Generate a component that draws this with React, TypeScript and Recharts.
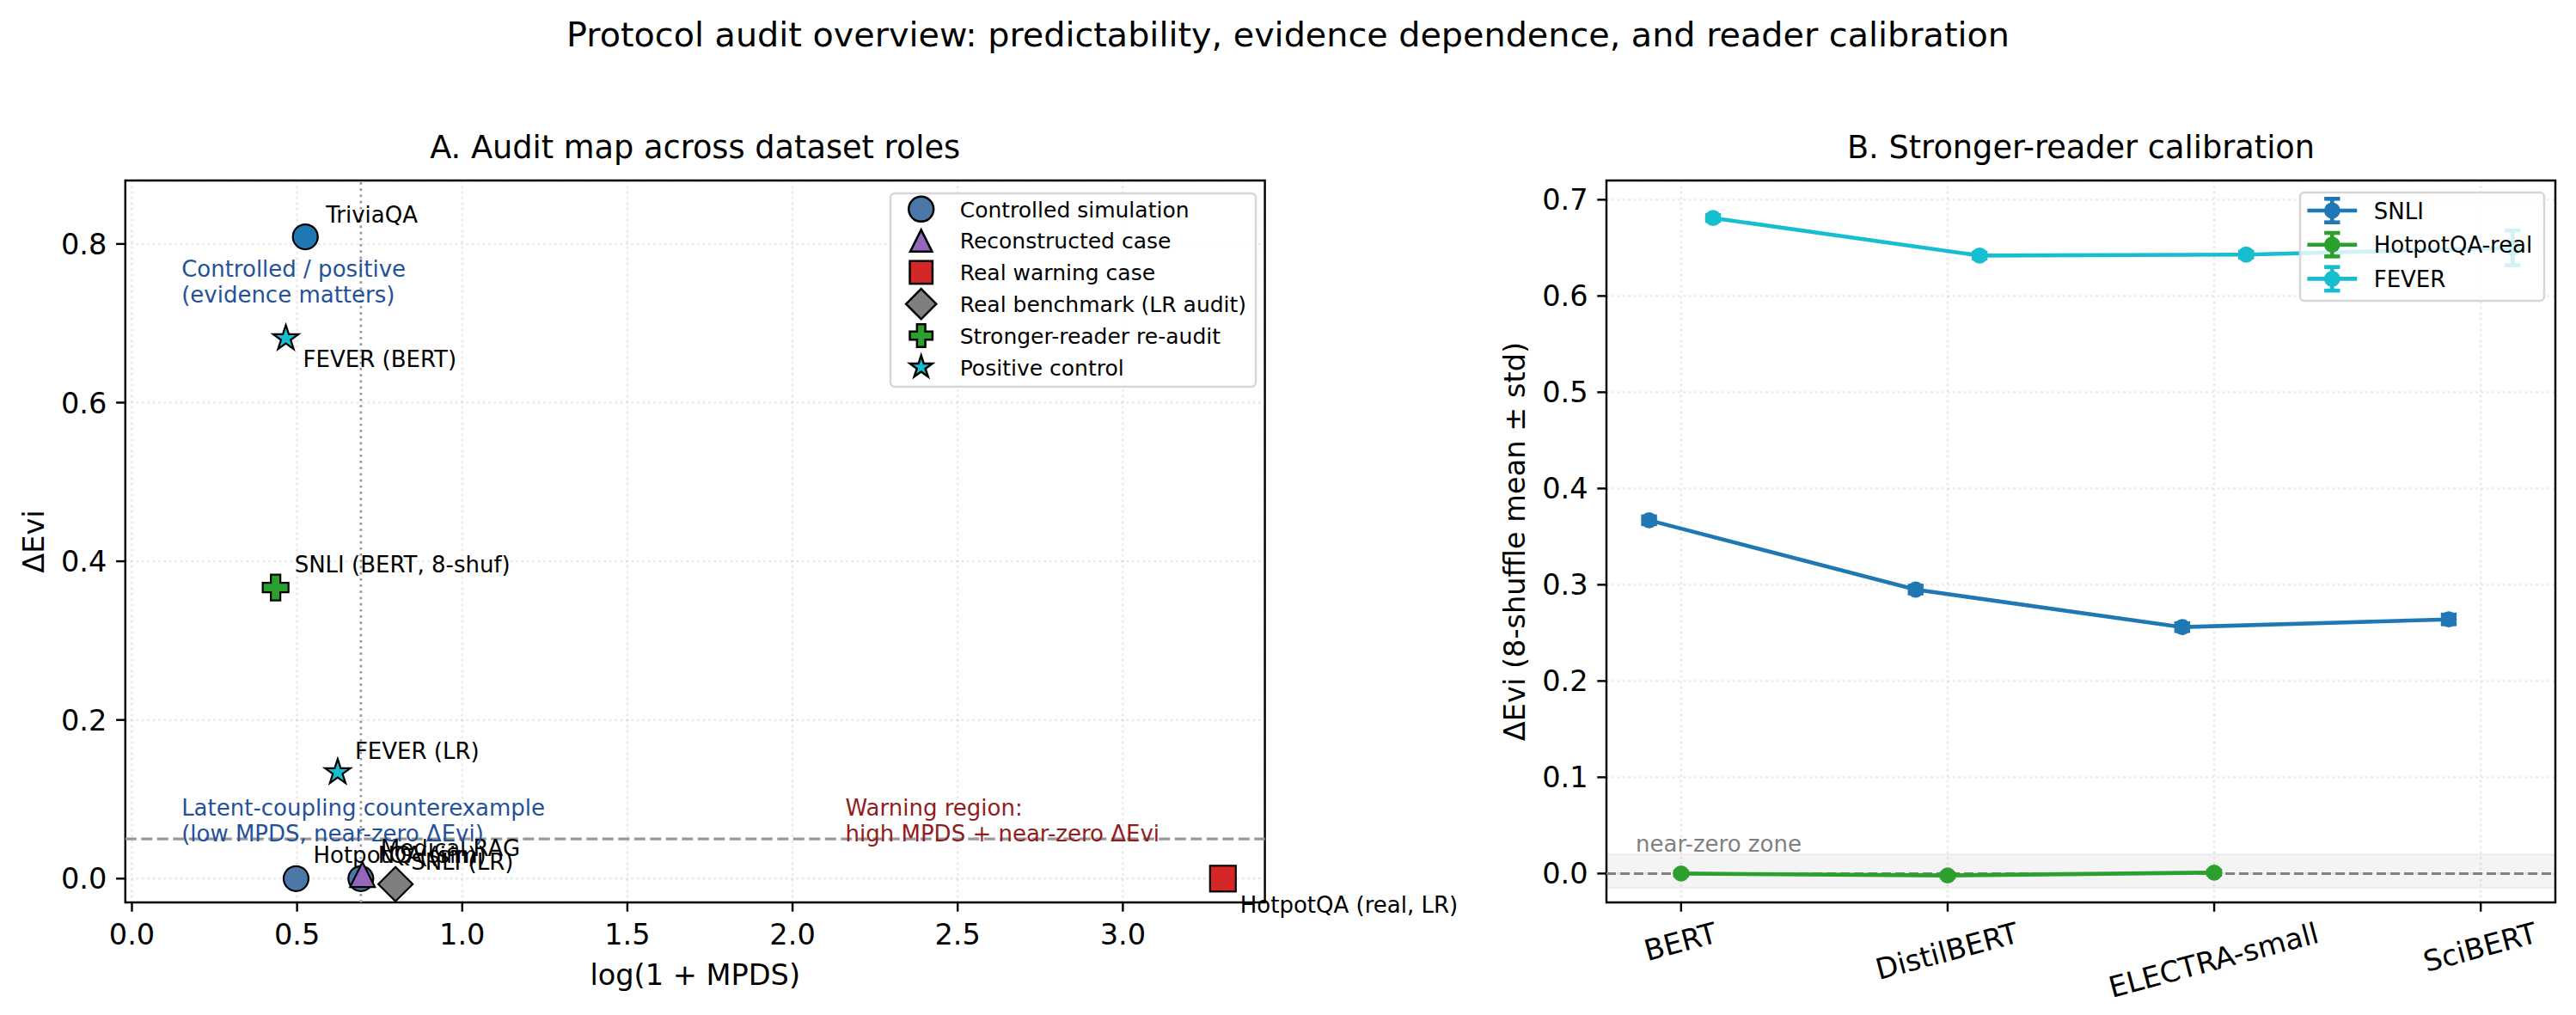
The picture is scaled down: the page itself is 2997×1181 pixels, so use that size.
import React from "react";
import {
  ScatterChart,
  Scatter,
  LineChart,
  Line,
  XAxis,
  YAxis,
  CartesianGrid,
  ReferenceLine,
  ReferenceArea,
  ReferenceDot,
  ErrorBar,
} from "recharts";

const FONT = '"DejaVu Sans", sans-serif';
const TICK_FS = 33.6;
const NOTE_FS = 26;
const SPINE = 2.44;
const TICK_LEN = 10.7;

// ---------- Panel A: audit map ----------
const ROLES = [
  "Controlled simulation",
  "Reconstructed case",
  "Real warning case",
  "Real benchmark (LR audit)",
  "Stronger-reader re-audit",
  "Positive control",
];

const SIMULATION_POINTS = [
  { name: "TriviaQA", x: 0.525, y: 0.809 },
  { name: "HotpotQA (sim)", x: 0.497, y: 0.0 },
  { name: "NQ (sim)", x: 0.693, y: 0.0 },
];
const RECONSTRUCTED_POINTS = [{ name: "Medical RAG", x: 0.698, y: 0.005 }];
const WARNING_POINTS = [{ name: "HotpotQA (real, LR)", x: 3.303, y: 0.0 }];
const BENCHMARK_POINTS = [{ name: "SNLI (LR)", x: 0.798, y: -0.007 }];
const REAUDIT_POINTS = [{ name: "SNLI (BERT, 8-shuf)", x: 0.435, y: 0.367 }];
const POSITIVE_POINTS = [
  { name: "FEVER (BERT)", x: 0.466, y: 0.681 },
  { name: "FEVER (LR)", x: 0.623, y: 0.134 },
];

const MAP_X_TICKS = [0, 0.5, 1, 1.5, 2, 2.5, 3];
const MAP_Y_TICKS = [0, 0.2, 0.4, 0.6, 0.8];
const MAP_X_DOMAIN = [-0.02, 3.43];
const MAP_Y_DOMAIN = [-0.03, 0.88];
const MPDS_THRESHOLD = 1; // drawn at log(1 + 1)
const NEAR_ZERO_EVI = 0.05;

const MAP_NOTES = [
  { kind: "positive", x: 0.15, y: 0.72, lines: ["Controlled / positive", "(evidence matters)"] },
  { kind: "positive", x: 0.15, y: 0.04, lines: ["Latent-coupling counterexample", "(low MPDS, near-zero ΔEvi)"] },
  { kind: "warning", x: 2.16, y: 0.04, lines: ["Warning region:", "high MPDS + near-zero ΔEvi"] },
];

// ---------- Panel B: stronger-reader calibration ----------
const READERS = ["BERT", "DistilBERT", "ELECTRA-small", "SciBERT"];
const SNLI_MEAN = [0.367, 0.295, 0.256, 0.264];
const SNLI_STD = [0.004, 0.004, 0.004, 0.005];
const HOTPOT_MEAN = [0.0, -0.002, 0.001];
const HOTPOT_STD = [0.002, 0.002, 0.002];
const FEVER_MEAN = [0.681, 0.642, 0.643, 0.65];
const FEVER_STD = [0.003, 0.003, 0.003, 0.018];
const CAL_Y_TICKS = [0, 0.1, 0.2, 0.3, 0.4, 0.5, 0.6, 0.7];
const CAL_X_DOMAIN = [-0.28, 3.28];
const CAL_Y_DOMAIN = [-0.03, 0.72];
const NEAR_ZERO_BAND = [-0.015, 0.02];

// ---------- styles ----------
type ShapeKind = "circle" | "triangle" | "square" | "diamond" | "plus" | "star";

const ROLE_STYLE: Record<string, { shape: ShapeKind; fill: string }> = {
  "Controlled simulation": { shape: "circle", fill: "#4c78a8" },
  "Reconstructed case": { shape: "triangle", fill: "#9467bd" },
  "Real warning case": { shape: "square", fill: "#d62728" },
  "Real benchmark (LR audit)": { shape: "diamond", fill: "#7f7f7f" },
  "Stronger-reader re-audit": { shape: "plus", fill: "#2ca02c" },
  "Positive control": { shape: "star", fill: "#17becf" },
};
const POINT_FILL: Record<string, string> = { TriviaQA: "#1f77b4" };

const MAP_SERIES = [
  { role: ROLES[0], data: SIMULATION_POINTS },
  { role: ROLES[1], data: RECONSTRUCTED_POINTS },
  { role: ROLES[2], data: WARNING_POINTS },
  { role: ROLES[3], data: BENCHMARK_POINTS },
  { role: ROLES[4], data: REAUDIT_POINTS },
  { role: ROLES[5], data: POSITIVE_POINTS },
];
const ALL_MAP_POINTS = MAP_SERIES.flatMap((s) => s.data);

// label offsets from marker centre: [dx to text start, dy to baseline]
const LABEL_OFFSET: Record<string, [number, number]> = {
  TriviaQA: [24, -17],
  "HotpotQA (sim)": [20, -18],
  "NQ (sim)": [20, -18],
  "Medical RAG": [21, -22],
  "HotpotQA (real, LR)": [20, 40],
  "SNLI (LR)": [18, -17],
  "SNLI (BERT, 8-shuf)": [22, -18],
  "FEVER (BERT)": [20, 33],
  "FEVER (LR)": [20, -16],
};
const NOTE_COLOR: Record<string, string> = { positive: "#24519a", warning: "#911d1d" };

const CAL_SERIES = [
  { name: "SNLI", color: "#1f77b4", offset: -0.12, mean: SNLI_MEAN, std: SNLI_STD },
  { name: "HotpotQA-real", color: "#2ca02c", offset: 0, mean: HOTPOT_MEAN, std: HOTPOT_STD },
  { name: "FEVER", color: "#17becf", offset: 0.12, mean: FEVER_MEAN, std: FEVER_STD },
].map((s) => ({
  ...s,
  rows: s.mean.map((m, i) => ({ x: i + s.offset, y: m, err: s.std[i] })),
}));

// ---------- helpers ----------
let measureCtx: CanvasRenderingContext2D | null = null;
function textWidth(s: string, size: number) {
  if (!measureCtx) measureCtx = document.createElement("canvas").getContext("2d");
  if (!measureCtx) return s.length * size * 0.6;
  measureCtx.font = `${size}px "DejaVu Sans"`;
  return measureCtx.measureText(s).width;
}

function Marker({ shape, cx, cy, fill, scale = 1, sw = 2.2 }: { shape: ShapeKind; cx: number; cy: number; fill: string; scale?: number; sw?: number }) {
  const common = { fill, stroke: "#000", strokeWidth: sw, strokeLinejoin: "miter" as const };
  if (shape === "circle") return <circle cx={cx} cy={cy} r={14.5} {...common} />;
  if (shape === "triangle") {
    const h = 14.5 * scale;
    return <polygon points={`${cx},${cy - h} ${cx - h},${cy + h} ${cx + h},${cy + h}`} {...common} />;
  }
  if (shape === "square") {
    const h = 15 * scale;
    return <rect x={cx - h} y={cy - h} width={2 * h} height={2 * h} {...common} />;
  }
  if (shape === "diamond") {
    const h = 20 * scale;
    return <polygon points={`${cx},${cy - h} ${cx + h},${cy} ${cx},${cy + h} ${cx - h},${cy}`} {...common} />;
  }
  if (shape === "plus") {
    const h = 15 * scale;
    const t = 5.5 * scale;
    const pts = [
      [-t, -h], [t, -h], [t, -t], [h, -t], [h, t], [t, t],
      [t, h], [-t, h], [-t, t], [-h, t], [-h, -t], [-t, -t],
    ];
    return <polygon points={pts.map(([a, b]) => `${cx + a},${cy + b}`).join(" ")} {...common} />;
  }
  const R = 15.5 * scale;
  const r = R * 0.381966;
  const pts: string[] = [];
  for (let k = 0; k < 10; k++) {
    const ang = ((-90 + k * 36) * Math.PI) / 180;
    const rad = k % 2 === 0 ? R : r;
    pts.push(`${cx + rad * Math.cos(ang)},${cy + rad * Math.sin(ang)}`);
  }
  return <polygon points={pts.join(" ")} {...common} />;
}

const txt = { fontFamily: FONT, fill: "#000" };

function BottomNumTick({ x, y, payload }: any) {
  return (
    <text x={x} y={y + 27.2} textAnchor="middle" fontSize={TICK_FS} {...txt}>
      {Number(payload.value).toFixed(1)}
    </text>
  );
}

function LeftNumTick({ x, y, payload }: any) {
  return (
    <text x={x} y={y} dy="0.36em" textAnchor="end" fontSize={TICK_FS} {...txt}>
      {Number(payload.value).toFixed(1)}
    </text>
  );
}

function ReaderTick({ x, y, payload }: any) {
  const label = READERS[Math.round(payload.value)];
  if (!label) return null;
  const w = textWidth(label, TICK_FS);
  const a = (15 * Math.PI) / 180;
  const cy = y + (w * Math.sin(a) + TICK_FS * Math.cos(a)) / 2;
  return (
    <text x={x} y={cy} dy="0.26em" textAnchor="middle" fontSize={TICK_FS} transform={`rotate(-15 ${x} ${cy})`} {...txt}>
      {label}
    </text>
  );
}

function NoteText({ cx, cy, lines, color, size = NOTE_FS, lineGap = 30 }: { cx: number; cy: number; lines: string[]; color: string; size?: number; lineGap?: number }) {
  const last = cy - 0.236 * size;
  return (
    <text fontFamily={FONT} fontSize={size} fill={color}>
      {lines.map((l, i) => (
        <tspan key={i} x={cx} y={last - (lines.length - 1 - i) * lineGap}>
          {l}
        </tspan>
      ))}
    </text>
  );
}

const gridProps = { stroke: "#b0b0b0", strokeOpacity: 0.3, strokeWidth: 2.4, strokeDasharray: "2.4 4" };
const tickLineProps = { stroke: "#000", strokeWidth: SPINE };

function AuditMap() {
  return (
    <div style={{ position: "absolute", left: 0, top: 0 }}>
      <ScatterChart width={1750} height={1181} margin={{ top: 210, right: 278.4, bottom: 0, left: 0 }}>
        <CartesianGrid {...gridProps} />
        <XAxis
          type="number"
          dataKey="x"
          domain={MAP_X_DOMAIN}
          ticks={MAP_X_TICKS}
          interval={0}
          height={131}
          tickSize={TICK_LEN}
          tickMargin={10.7}
          axisLine={false}
          tickLine={tickLineProps}
          tick={(p: any) => <BottomNumTick {...p} />}
        />
        <YAxis
          type="number"
          dataKey="y"
          domain={MAP_Y_DOMAIN}
          ticks={MAP_Y_TICKS}
          interval={0}
          width={145.8}
          tickSize={TICK_LEN}
          tickMargin={10.7}
          axisLine={false}
          tickLine={tickLineProps}
          tick={(p: any) => <LeftNumTick {...p} />}
        />
        {MAP_SERIES.map((s) => {
          const st = ROLE_STYLE[s.role];
          return (
            <Scatter
              key={s.role}
              name={s.role}
              data={s.data}
              isAnimationActive={false}
              shape={(p: any) => (
                <Marker shape={st.shape} cx={p.cx} cy={p.cy} fill={POINT_FILL[p.payload?.name] ?? st.fill} />
              )}
            />
          );
        })}
        <ReferenceLine x={Math.log1p(MPDS_THRESHOLD)} stroke="#999999" strokeWidth={2.7} strokeDasharray="2.7 4.5" />
        <ReferenceLine y={NEAR_ZERO_EVI} stroke="#999999" strokeWidth={3.2} strokeDasharray="13 5.5" />
        <Scatter
          data={ALL_MAP_POINTS}
          isAnimationActive={false}
          shape={(p: any) => {
            const name = p.payload?.name ?? "";
            const [dx, dy] = LABEL_OFFSET[name] ?? [20, -18];
            return (
              <text x={p.cx + dx} y={p.cy + dy} fontSize={NOTE_FS} {...txt}>
                {name}
              </text>
            );
          }}
        />
        {MAP_NOTES.map((n, i) => (
          <ReferenceDot
            key={i}
            x={n.x}
            y={n.y}
            r={0}
            shape={(p: any) => <NoteText cx={p.cx} cy={p.cy} lines={n.lines} color={NOTE_COLOR[n.kind]} />}
          />
        ))}
        <ReferenceArea
          x1={MAP_X_DOMAIN[0]}
          x2={MAP_X_DOMAIN[1]}
          y1={MAP_Y_DOMAIN[0]}
          y2={MAP_Y_DOMAIN[1]}
          fill="none"
          stroke="#000"
          strokeWidth={SPINE}
        />
      </ScatterChart>
    </div>
  );
}

function ReaderCalibration() {
  return (
    <div style={{ position: "absolute", left: 1600, top: 0 }}>
      <LineChart width={1397} height={1181} margin={{ top: 210, right: 24, bottom: 0, left: 0 }}>
        <CartesianGrid {...gridProps} />
        <XAxis
          type="number"
          dataKey="x"
          domain={CAL_X_DOMAIN}
          ticks={[0, 1, 2, 3]}
          interval={0}
          height={131}
          tickSize={TICK_LEN}
          tickMargin={10.7}
          axisLine={false}
          tickLine={tickLineProps}
          tick={(p: any) => <ReaderTick {...p} />}
        />
        <YAxis
          type="number"
          domain={CAL_Y_DOMAIN}
          ticks={CAL_Y_TICKS}
          interval={0}
          width={269}
          tickSize={TICK_LEN}
          tickMargin={10.7}
          axisLine={false}
          tickLine={tickLineProps}
          tick={(p: any) => <LeftNumTick {...p} />}
        />
        <ReferenceArea
          y1={NEAR_ZERO_BAND[0]}
          y2={NEAR_ZERO_BAND[1]}
          fill="#808080"
          fillOpacity={0.09}
          stroke="#808080"
          strokeOpacity={0.08}
          strokeWidth={2.4}
        />
        <ReferenceLine y={0} stroke="#808080" strokeWidth={3} strokeDasharray="11 5" />
        <ReferenceDot
          x={-0.17}
          y={0.017}
          r={0}
          shape={(p: any) => <NoteText cx={p.cx} cy={p.cy} lines={["near-zero zone"]} color="#808080" />}
        />
        {CAL_SERIES.map((s) => (
          <Line
            key={s.name}
            name={s.name}
            data={s.rows}
            dataKey="y"
            type="linear"
            stroke={s.color}
            strokeWidth={4.6}
            dot={{ r: 9.4, fill: s.color, stroke: s.color, strokeWidth: 0 }}
            activeDot={false}
            isAnimationActive={false}
          >
            <ErrorBar dataKey="err" direction="y" width={9.2} stroke={s.color} strokeWidth={4.6} />
          </Line>
        ))}
        <ReferenceArea
          x1={CAL_X_DOMAIN[0]}
          x2={CAL_X_DOMAIN[1]}
          y1={CAL_Y_DOMAIN[0]}
          y2={CAL_Y_DOMAIN[1]}
          fill="none"
          stroke="#000"
          strokeWidth={SPINE}
        />
      </LineChart>
    </div>
  );
}

function RoleLegend() {
  const rowY = (i: number) => 243.3 + i * 36.8;
  return (
    <g>
      <rect x={1036} y={225} width={425} height={225} rx={5} fill="#fff" fillOpacity={0.8} stroke="#d6d6d6" strokeWidth={2.4} />
      {ROLES.map((role, i) => (
        <g key={role}>
          <Marker shape={ROLE_STYLE[role].shape} cx={1071.7} cy={rowY(i)} fill={ROLE_STYLE[role].fill} scale={0.88} sw={2.5} />
          <text x={1116.7} y={rowY(i) + 9.2} fontSize={25} {...txt}>
            {role}
          </text>
        </g>
      ))}
    </g>
  );
}

function ReaderLegend() {
  const rowY = (i: number) => 245 + i * 39.7;
  const mx = 2713.3;
  return (
    <g>
      <rect x={2676} y={224} width={284} height={126} rx={5} fill="#fff" fillOpacity={0.8} stroke="#d6d6d6" strokeWidth={2.4} />
      {CAL_SERIES.map((s, i) => {
        const cy = rowY(i);
        return (
          <g key={s.name} stroke={s.color} strokeWidth={4.6}>
            <line x1={2684.4} x2={2742.2} y1={cy} y2={cy} />
            <line x1={mx} x2={mx} y1={cy - 13.7} y2={cy + 13.7} />
            <line x1={mx - 9.2} x2={mx + 9.2} y1={cy - 13.7} y2={cy - 13.7} />
            <line x1={mx - 9.2} x2={mx + 9.2} y1={cy + 13.7} y2={cy + 13.7} />
            <circle cx={mx} cy={cy} r={9.4} fill={s.color} stroke="none" />
            <text x={2761.7} y={cy + 9.6} fontSize={26} stroke="none" {...txt}>
              {s.name}
            </text>
          </g>
        );
      })}
    </g>
  );
}

export default function App() {
  return (
    <div style={{ position: "absolute", left: 0, top: 0, width: 2997, height: 1181, background: "#fff", overflow: "hidden" }}>
      <AuditMap />
      <ReaderCalibration />
      <svg width={2997} height={1181} style={{ position: "absolute", left: 0, top: 0, pointerEvents: "none" }}>
        <text x={1498.5} y={54} textAnchor="middle" fontSize={39.7} {...txt}>
          Protocol audit overview: predictability, evidence dependence, and reader calibration
        </text>
        <text x={808.7} y={184} textAnchor="middle" fontSize={36.7} {...txt}>
          A. Audit map across dataset roles
        </text>
        <text x={2421} y={184} textAnchor="middle" fontSize={36.7} {...txt}>
          B. Stronger-reader calibration
        </text>
        <text x={808.7} y={1146} textAnchor="middle" fontSize={TICK_FS} {...txt}>
          log(1 + MPDS)
        </text>
        <text x={50.5} y={630} textAnchor="middle" fontSize={TICK_FS} transform="rotate(-90 50.5 630)" {...txt}>
          ΔEvi
        </text>
        <text x={1774} y={630} textAnchor="middle" fontSize={TICK_FS} transform="rotate(-90 1774 630)" {...txt}>
          ΔEvi (8-shuffle mean ± std)
        </text>
        <RoleLegend />
        <ReaderLegend />
      </svg>
    </div>
  );
}
